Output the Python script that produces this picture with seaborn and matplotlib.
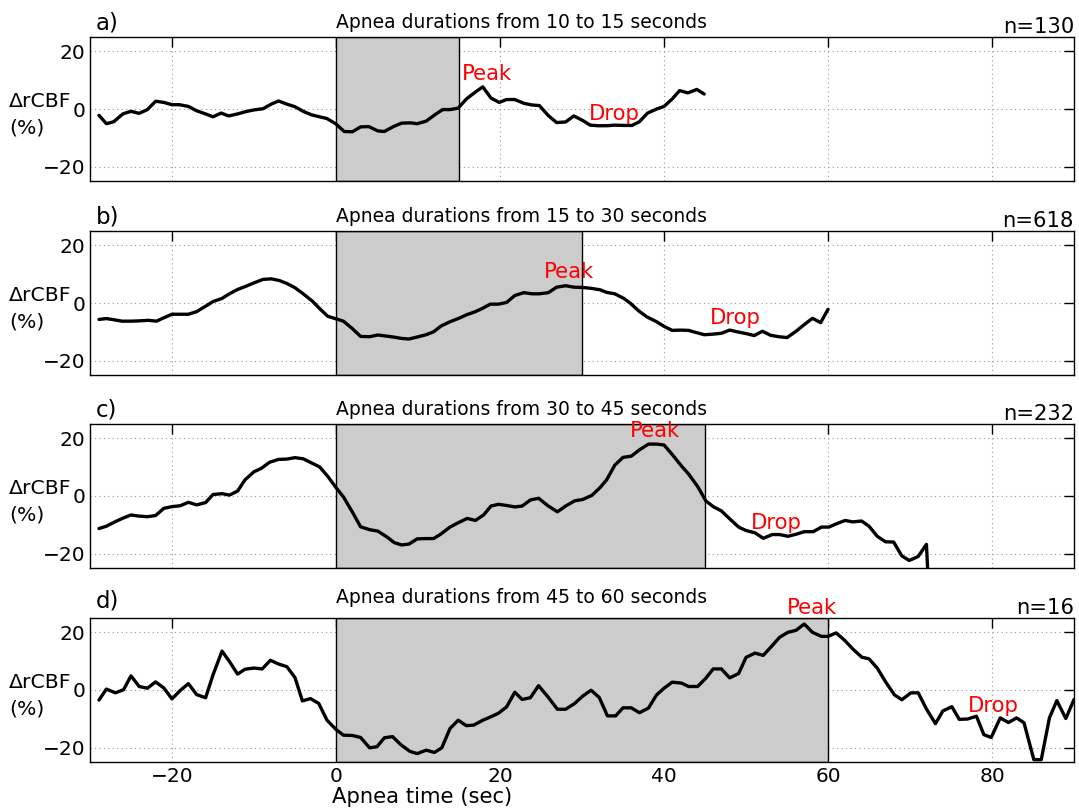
import matplotlib
matplotlib.use("Agg")
import matplotlib.pyplot as plt
import seaborn as sns
import pandas as pd

sns.set_style("white")
plt.rcParams['font.family'] = ['DejaVu Sans']
plt.rcParams['text.color'] = 'black'
plt.rcParams['axes.labelcolor'] = 'black'
plt.rcParams['xtick.color'] = 'black'
plt.rcParams['ytick.color'] = 'black'

# ---------------- data ----------------
panel_letters = ["a)", "b)", "c)", "d)"]
titles = ["Apnea durations from 10 to 15 seconds",
          "Apnea durations from 15 to 30 seconds",
          "Apnea durations from 30 to 45 seconds",
          "Apnea durations from 45 to 60 seconds"]
counts = ["n=130", "n=618", "n=232", "n=16"]
apnea_end = [15, 30, 45, 60]

time_a = [-28.9, -28, -27.1, -26, -25, -24, -23, -22, -21, -20,
          -19.1, -18, -17, -16, -15, -14, -13.1, -12, -11, -10,
          -8.9, -7.9, -7, -6, -5, -4, -3, -2, -1.1, 0,
          1, 2, 3, 4, 5.1, 5.9, 7, 8, 9.1, 9.9,
          11, 12, 13, 13.9, 14.9, 15.9, 17, 17.9, 18.9, 19.9,
          20.8, 21.8, 22.9, 23.9,
          24.8, 25.9, 26.9, 28, 29, 30.1, 31, 32, 33, 34,
          35.1, 36.1, 37, 38, 39.1, 40, 41, 41.9, 42.9, 44,
          44.9]
rcbf_a = [-2.2, -5.1, -4.4, -1.7, -0.8, -1.5, -0.2, 2.7, 2.3, 1.5,
          1.5, 0.9, -0.6, -1.6, -2.7, -1.4, -2.4, -1.7, -0.9, -0.3,
          0.1, 1.7, 2.8, 1.7, 0.8, -0.8, -2.0, -2.7, -3.3, -5.2,
          -7.8, -7.9, -6.2, -6.1, -7.6, -7.8, -6.1, -4.9, -4.8, -5.1,
          -4.2, -2.1, -0.2, -0.2, 0.3, 3.5, 5.9, 7.7, 3.8, 2.3,
          3.3, 3.3, 2.0, 1.4,
          1.2, -2.3, -4.7, -4.5, -2.4, -4.0, -5.6, -5.8, -5.8, -5.6,
          -5.7, -5.7, -4.4, -1.4, 0, 0.9, 3.5, 6.4, 5.6, 6.8,
          5.2]

time_b = [-28.9, -28, -27.1, -26.1, -25, -24, -22.9, -21.9, -20.9, -20,
          -19, -18, -17, -15.9, -15, -13.9, -13, -12, -11, -10,
          -8.9, -7.9, -6.9, -6, -5, -4, -2.9, -1.9, -1, 0,
          0.9, 2, 3, 4.1, 5.1, 6.2, 7.2, 8, 8.9, 9.9,
          11, 11.9, 12.8, 13.9, 14.9, 16, 17, 17.9, 18.8, 19.8,
          20.8, 21.8, 22.9, 23.9,
          24.8, 25.9, 26.9, 28, 29, 30.1, 31.1, 32.2, 33, 34,
          35.1, 35.9, 36.9, 37.9, 39.1, 40, 41, 42, 43, 44,
          44.9, 46, 47, 48, 49.1, 50, 51, 52, 53, 54,
          55, 56.1, 57.1, 58.1, 59.1, 60]
rcbf_b = [-5.7, -5.4, -5.8, -6.3, -6.3, -6.2, -6.0, -6.3, -5.0, -3.9,
          -3.9, -3.9, -3.0, -1.1, 0.5, 1.6, 3.2, 4.7, 5.8, 7.0,
          8.2, 8.4, 7.8, 6.8, 5.3, 3.2, 0.7, -2.2, -4.6, -5.5,
          -6.3, -8.9, -11.6, -11.7, -11.1, -11.5, -11.9, -12.3, -12.5, -11.8,
          -11.0, -10.0, -8.0, -6.5, -5.4, -4.0, -3.0, -1.8, -0.4, -0.4,
          0.2, 2.6, 3.6, 3.2,
          3.2, 3.6, 5.5, 6.0, 5.5, 5.4, 5.1, 4.6, 3.7, 3.2,
          1.6, -0.1, -2.7, -4.8, -6.5, -8.1, -9.5, -9.4, -9.5, -10.3,
          -11.0, -10.8, -10.5, -9.4, -10.1, -10.6, -11.3, -9.8, -11.2, -11.7,
          -12.0, -9.8, -7.5, -5.3, -6.8, -2.2]

time_c = [-28.9, -28, -26.9, -25.9, -25, -24, -23, -22, -21, -20,
          -19, -18, -17, -15.9, -15, -13.9, -13, -12, -11.1, -10,
          -9.1, -8.1, -7, -6, -5, -4, -3, -2, -1, 0,
          0.9, 2, 3, 4.1, 5.1, 6.2, 7.1, 8, 8.9, 9.9,
          11, 11.9, 12.8, 13.9, 14.9, 16, 17, 18, 18.9, 19.8,
          20.8, 21.8, 22.7, 23.7, 24.7,
          25.9, 27, 28, 29.1, 30.1, 31.2, 32.2, 33, 34, 35,
          36, 37, 38.1, 39.1, 40, 41, 42.1, 43, 44.1, 45.1,
          46, 47, 48, 49.1, 50, 51.1, 52.1, 53.2, 54.1, 55.1,
          56.1, 57.1, 58.2, 59.2, 60.1, 61, 62.1, 63, 64.1, 65,
          66, 67, 68, 69, 69.9, 71, 72, 72.4]
rcbf_c = [-11.3, -10.5, -8.9, -7.6, -6.6, -7.0, -7.2, -6.8, -4.3, -3.7,
          -3.4, -2.2, -3.1, -2.3, 0.5, 0.8, 0.3, 1.7, 5.6, 8.4,
          9.6, 11.7, 12.7, 12.8, 13.3, 12.9, 11.5, 10.1, 6.8, 2.9,
          -0.3, -5.6, -10.7, -11.7, -12.2, -14.2, -16.2, -17.0, -16.7, -14.9,
          -14.8, -14.8, -13.2, -10.8, -9.3, -7.8, -8.5, -6.6, -3.5, -2.9,
          -3.3, -3.8, -3.5, -1.4, -0.8,
          -3.5, -5.5, -3.5, -1.7, -1.2, 0.2, 2.9, 5.6, 10.7, 13.4,
          13.8, 16.0, 18.0, 18.0, 17.7, 14.4, 10.5, 7.6, 3.3, -1.7,
          -3.7, -5.2, -7.9, -10.8, -12.0, -12.8, -14.7, -13.4, -13.4, -14.0,
          -13.3, -12.4, -12.4, -10.8, -10.8, -9.7, -8.5, -9.0, -8.7, -10.5,
          -14.0, -15.9, -16.0, -20.8, -22.4, -21.0, -16.8, -40.0]

time_d = [-28.9, -28, -26.9, -25.9, -25, -24, -23, -22, -21, -20,
          -19, -18, -17, -15.9, -15, -13.9, -13, -12, -11.1, -10,
          -9, -8, -7, -6, -5, -4.1, -3.1, -2.1, -1.1, 0,
          0.9, 2, 3, 4.1, 5, 5.9, 6.9, 7.9, 9, 9.9,
          11, 12, 12.9, 13.9, 14.9, 15.9, 16.8, 17.9, 18.9, 19.8,
          20.8, 21.8, 22.7, 23.7, 24.7,
          25.9, 27, 28, 29.1, 30.1, 31.1, 32.1, 33.1, 34.1, 35,
          36, 37, 38.1, 39.1, 40, 41, 42.1, 43, 44.1, 45.1,
          46, 47, 48, 49.1, 50, 51.1, 52.1, 53.1, 54.1, 55.1,
          56.1, 57.1, 58.1, 59.2, 60, 61, 62, 63, 64.1, 65,
          66, 67, 68.1, 69, 70.1, 71, 72, 73.1, 74, 75.1,
          76, 77, 78.1, 79, 79.9, 81, 82, 83, 83.9, 85.1,
          86, 87, 87.9, 89, 90]
rcbf_d = [-3.5, 0.3, -1.0, 0.1, 4.9, 1.2, 0.6, 2.8, 0.7, -3.1,
          -0.2, 2.2, -1.6, -2.7, 5.2, 13.5, 9.9, 5.5, 7.2, 7.6,
          7.3, 10.3, 9.0, 8.1, 4.3, -3.8, -3.0, -4.7, -10.5, -13.7,
          -15.7, -15.8, -16.5, -20.1, -19.7, -16.6, -16.2, -19.0, -21.3, -22.1,
          -20.9, -21.7, -20.1, -13.4, -10.5, -12.4, -12.2, -10.5, -9.3, -8.1,
          -5.9, -0.8, -3.3, -2.7, 1.5,
          -2.6, -6.7, -6.7, -4.7, -2.1, -0.1, -2.6, -9.0, -9.0, -6.2,
          -6.2, -7.9, -6.3, -1.7, 0.6, 2.7, 2.4, 1.2, 1.2, 4.1,
          7.3, 7.3, 4.2, 5.7, 11.3, 12.8, 12.0, 15.1, 18.3, 20.0,
          20.7, 22.9, 20.0, 18.6, 18.6, 19.8, 17.3, 14.3, 11.4, 10.8,
          7.6, 2.9, -1.7, -3.4, -1.0, -1.0, -6.6, -11.7, -7.3, -5.8,
          -10.2, -10.1, -9.1, -15.5, -16.5, -9.7, -11.3, -9.7, -11.4, -24.2,
          -24.2, -9.7, -3.7, -9.9, -3.3]

times = [time_a, time_b, time_c, time_d]
values = [rcbf_a, rcbf_b, rcbf_c, rcbf_d]

peak_pos = [(15.3, 12.0), (25.3, 10.6), (35.8, 22.4), (55.0, 28.5)]
drop_pos = [(30.8, -1.6), (45.6, -5.1), (50.6, -9.3), (77.1, -5.5)]

x_ticks = [-20, 0, 20, 40, 60, 80]
y_ticks = [-20, 0, 20]

# ---------------- figure ----------------
fig = plt.figure(figsize=(10.79, 8.10), dpi=100)
left, width, height = 0.0834, 0.912, 0.1778
bottoms = [0.7765, 0.537, 0.2988, 0.0593]
title_y = [1.065, 1.065, 1.065, 1.105]
letter_y = [1.055, 1.055, 1.055, 1.075]
FS = 15.2

for i in range(4):
    ax = fig.add_axes([left, bottoms[i], width, height])
    ax.set_axisbelow(True)
    ax.axvspan(0, apnea_end[i], facecolor='#cccccc', edgecolor='black',
               linewidth=1.0, zorder=1)
    df = pd.DataFrame({"t": times[i], "v": values[i]})
    sns.lineplot(data=df, x="t", y="v", ax=ax, color='black', linewidth=2.4,
                 sort=False, estimator=None, zorder=3, legend=False)
    ax.set_xlim(-30, 90)
    ax.set_ylim(-25, 25)
    ax.set_xticks(x_ticks)
    ax.set_yticks(y_ticks)
    ax.set_xlabel("")
    ax.set_ylabel("")
    ax.grid(True, linestyle=(0, (1, 3)), color='#999999', linewidth=0.8)
    ax.tick_params(direction='in', top=True, right=True, length=7, width=1,
                   labelsize=14.5, colors='black', pad=3.5)
    for sp in ax.spines.values():
        sp.set_color('black')
        sp.set_linewidth(1.0)
    if i < 3:
        ax.tick_params(labelbottom=False)

    ax.text(0.006, letter_y[i], panel_letters[i], transform=ax.transAxes,
            fontsize=16.5, va='baseline', ha='left')
    ax.text(0, title_y[i], titles[i], transform=ax.get_xaxis_transform(),
            fontsize=13.5, va='baseline', ha='left')
    ax.text(1.0, 1.025, counts[i], transform=ax.transAxes,
            fontsize=FS, va='baseline', ha='right')
    ax.text(-0.0825, 0.515, "ΔrCBF", transform=ax.transAxes,
            fontsize=14.7, va='baseline', ha='left')
    ax.text(-0.0825, 0.33, "(%)", transform=ax.transAxes,
            fontsize=14.7, va='baseline', ha='left')
    ax.text(peak_pos[i][0], peak_pos[i][1], "Peak", color='red',
            fontsize=FS, ha='left', va='center', clip_on=False, zorder=5)
    ax.text(drop_pos[i][0], drop_pos[i][1], "Drop", color='red',
            fontsize=FS, ha='left', va='center', clip_on=False, zorder=5)
    if i == 3:
        ax.text(-0.5, -0.285, "Apnea time (sec)", transform=ax.get_xaxis_transform(),
                fontsize=FS, va='baseline', ha='left')

fig.savefig("out.png", dpi=100)
